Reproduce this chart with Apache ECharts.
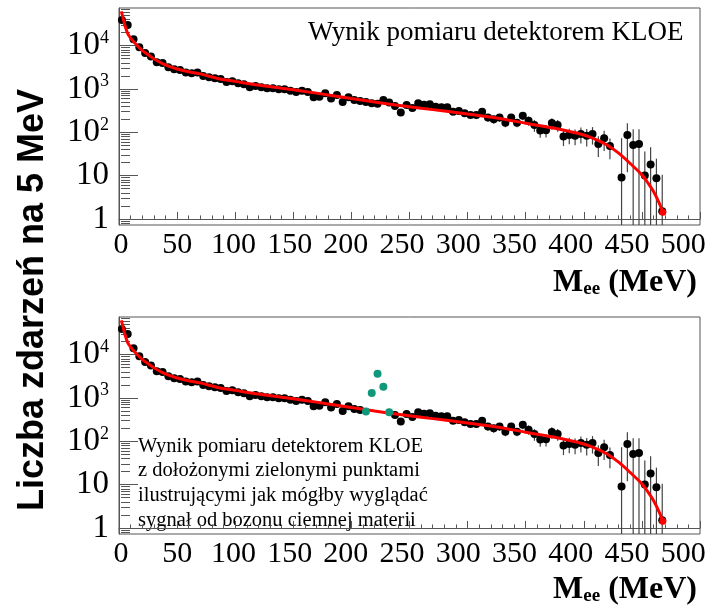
<!DOCTYPE html>
<html>
<head>
<meta charset="utf-8">
<script src="https://cdn.jsdelivr.net/npm/echarts@6/dist/echarts.min.js"></script>
<style>
  html, body { margin: 0; padding: 0; background: #fff; }
  #chart { width: 726px; height: 607px; }
</style>
</head>
<body>
<div id="chart"></div>
<script>
  // bin width of the histogram (MeV); first bin centre 2.5
  var binWidth = 5;
  // counts per 5 MeV bin (null = empty bin)
  var counts = [
    39400, 30200, 14100, 9200, 6800, 5600, 4160, 3960, 3180, 2860,
    2760, 2400, 2320, 2400, 2000, 1870, 1780, 1700, 1450, 1510,
    1350, 1290, 1100, 1180, 1100, 1040, 1040, 990, 990, 915,
    850, 915, 850, 645, 660, 800, 600, 730, 500, 645,
    560, 525, 500, 470, 455, 560, 490, 405, 285, 425,
    364, 470, 430, 445, 390, 380, 380, 300, 310, 275,
    252, 252, 300, 220, 200, 220, 167, 220, 167, 240,
    186, 148, 110, 112, 163, 148, 80, 87, 83, 92,
    83, 92, 54, 73, 48, null, 9, 87, 51, 54,
    10, 18, 8.7, 1.5
  ];
  // error bar half-lengths for the same bins
  var errors = [
    0, 0, 0, 0, 0, 0, 0, 0, 0, 0,
    0, 0, 0, 0, 0, 0, 0, 0, 0, 0,
    0, 0, 0, 0, 0, 0, 0, 0, 0, 0,
    0, 0, 0, 0, 0, 0, 0, 0, 0, 0,
    0, 0, 0, 0, 0, 0, 0, 0, 0, 0,
    0, 0, 0, 0, 0, 0, 40, 36, 37, 35,
    40, 40, 45, 44, 42, 45, 36, 45, 36, 50,
    45, 45, 35, 36, 48, 45, 32, 34, 33, 37,
    36, 40, 27, 36, 24, null, 64, 75, 67, 64,
    26, 27, 16, 9
  ];
  // fit curve (red), mass in MeV and value
  var fitMass = [2, 2.5, 5, 7.5, 10, 15, 20, 25, 30, 40, 50, 60, 70, 85, 100, 120, 140, 160, 180, 200,
    220, 240, 260, 280, 300, 325, 350, 375, 400, 410, 420, 430, 440, 450, 455, 460, 465, 468];
  var fitValue = [62000, 55000, 30000, 19000, 15000, 10500, 7800, 6200, 5000, 3600, 2900, 2500, 2230, 1750, 1500, 1230, 1040, 880, 730, 600,
    500, 420, 360, 310, 265, 213, 162, 124, 87, 69, 51, 33, 19, 10.4, 6.9, 4.3, 2.3, 1.43];
  // green "signal" points shown in the lower panel
  var signalMass = [212.5, 217.5, 222.5, 227.5, 232.5];
  var signalValue = [490, 1310, 3640, 1820, 470];

  var xTicks = [0, 50, 100, 150, 200, 250, 300, 350, 400, 450, 500];
  var yDecades = [0, 1, 2, 3, 4];
  var yDecadeLabels = ['1', '10', '10{s|2}', '10{s|3}', '10{s|4}'];

  var lg = function (v) { return Math.log(v) / Math.LN10; };
  var yMin = -0.14, yMax = 4.87;

  // minor log ticks 2..9 x 10^k
  var minorTicks = [lg(0.8), lg(0.9)];
  for (var k = 0; k <= 4; k++) {
    for (var m = 2; m <= 9; m++) {
      var t = lg(m) + k;
      if (t < yMax) minorTicks.push(t);
    }
  }

  var bins = counts.map(function (c, i) { return 2.5 + i * binWidth; });

  function pointsFor(skipSignal) {
    var out = [];
    bins.forEach(function (x, i) {
      if (counts[i] == null) return;
      if (skipSignal && signalMass.indexOf(x) >= 0) return;
      out.push([x, lg(counts[i])]);
    });
    return out;
  }
  function errorBars(skipSignal) {
    var out = [];
    bins.forEach(function (x, i) {
      if (counts[i] == null || !errors[i]) return;
      if (skipSignal && signalMass.indexOf(x) >= 0) return;
      var lo = counts[i] - errors[i];
      out.push([x, lo > 0.3 ? lg(lo) : lg(0.3), lg(counts[i] + errors[i])]);
    });
    return out;
  }
  var fitData = fitMass.map(function (x, i) { return [x, lg(fitValue[i])]; });
  var signalData = signalMass.map(function (x, i) { return [x, lg(signalValue[i])]; });

  var serif = '"Liberation Serif", "Times New Roman", serif';
  var frameColor = '#555';

  function renderErr(params, api) {
    var p1 = api.coord([api.value(0), api.value(1)]);
    var p2 = api.coord([api.value(0), api.value(2)]);
    return {
      type: 'line',
      shape: { x1: p1[0], y1: p1[1], x2: p2[0], y2: p2[1] },
      style: { stroke: '#444', lineWidth: 1.2 }
    };
  }

  var grids = [
    { left: 119, top: 8, width: 581, height: 217 },
    { left: 119, top: 317, width: 581, height: 217 }
  ];

  var xAxes = [], yAxes = [], series = [];
  grids.forEach(function (g, gi) {
    g.show = true;
    g.borderColor = frameColor;
    g.borderWidth = 1;
    g.backgroundColor = 'transparent';
    // scale axis: line and ticks
    xAxes.push({
      type: 'value', gridIndex: gi, min: 0, max: 500, interval: 50,
      axisLine: { lineStyle: { color: frameColor } },
      axisTick: { inside: true, length: 7, lineStyle: { color: frameColor } },
      minorTick: { show: true, splitNumber: 5, length: 3.5, lineStyle: { color: frameColor } },
      splitLine: { show: false },
      axisLabel: { show: false }
    });
    // label row: in the original the numbers sit slightly tighter than the ticks
    xAxes.push({
      type: 'value', gridIndex: gi, position: 'bottom', offset: 0, min: -1.8, max: 515,
      axisLine: { show: false }, axisTick: { show: false }, splitLine: { show: false },
      axisLabel: { color: '#000', fontFamily: serif, fontSize: 30, margin: 5, customValues: xTicks }
    });
    yAxes.push({
      type: 'value', gridIndex: gi, min: yMin, max: yMax, position: 'left',
      axisLine: { show: true, lineStyle: { color: frameColor } },
      axisTick: { inside: true, length: 19, customValues: yDecades, lineStyle: { color: frameColor } },
      splitLine: { show: false },
      axisLabel: {
        customValues: yDecades, color: '#000', fontFamily: serif, fontSize: 33, margin: 10,
        formatter: function (v) { return yDecadeLabels[Math.round(v)]; },
        rich: { s: { fontFamily: serif, fontSize: 18, verticalAlign: 'top', padding: [0, 0, 15, 0], color: '#000' } }
      }
    });
    yAxes.push({
      type: 'value', gridIndex: gi, min: yMin, max: yMax, position: 'left', offset: 0,
      axisLine: { show: false },
      axisTick: { inside: true, length: 9, customValues: minorTicks, lineStyle: { color: frameColor } },
      axisLabel: { show: false },
      splitLine: { show: false }
    });
    var skip = gi === 1;
    var xi = gi * 2, yi = gi * 2;
    series.push({
      type: 'custom', xAxisIndex: xi, yAxisIndex: yi, renderItem: renderErr,
      data: errorBars(skip), clip: true, z: 2
    });
    series.push({
      type: 'scatter', xAxisIndex: xi, yAxisIndex: yi, data: pointsFor(skip),
      symbolSize: 8, itemStyle: { color: '#000', opacity: 1 }, z: 3, silent: true
    });
    series.push({
      type: 'line', xAxisIndex: xi, yAxisIndex: yi, data: fitData, smooth: 0.3,
      showSymbol: false, lineStyle: { color: '#ff0000', width: 3 }, z: 4, silent: true
    });
    series.push({
      type: 'scatter', xAxisIndex: xi, yAxisIndex: yi, data: [fitData[fitData.length - 1]],
      symbolSize: 7, itemStyle: { color: '#ff0000', opacity: 1 }, z: 5, silent: true
    });
    if (gi === 1) {
      series.push({
        type: 'scatter', xAxisIndex: xi, yAxisIndex: yi, data: signalData,
        symbolSize: 8, itemStyle: { color: '#12977a', opacity: 1 }, z: 6, silent: true
      });
    }
  });

  var meeRich = {
    m: { fontFamily: serif, fontWeight: 'bold', fontSize: 32, fill: '#000' },
    s: { fontFamily: serif, fontWeight: 'bold', fontSize: 19, fill: '#000', verticalAlign: 'bottom', padding: [10, 0, 0, 0] }
  };

  var chart = echarts.init(document.getElementById('chart'), null, { renderer: 'canvas' });
  chart.setOption({
    animation: false,
    backgroundColor: '#fff',
    grid: grids,
    xAxis: xAxes,
    yAxis: yAxes,
    series: series,
    graphic: [
      {
        type: 'text', x: 33, y: 300, rotation: Math.PI / 2,
        style: { text: 'Liczba zdarzeń na 5 MeV', font: 'bold 36px "Liberation Sans", Arial, sans-serif', fill: '#000', align: 'center', verticalAlign: 'middle' }
      },
      {
        type: 'text', x: 697, y: 283,
        style: { text: '{m|M}{s|ee}{m| (MeV)}', rich: meeRich, align: 'right', verticalAlign: 'middle' }
      },
      {
        type: 'text', x: 697, y: 590,
        style: { text: '{m|M}{s|ee}{m| (MeV)}', rich: meeRich, align: 'right', verticalAlign: 'middle' }
      },
      {
        type: 'text', x: 308, y: 33,
        style: { text: 'Wynik pomiaru detektorem KLOE', font: '27px ' + serif, fill: '#000', align: 'left', verticalAlign: 'middle' }
      },
      {
        type: 'text', x: 138, y: 434,
        style: {
          text: 'Wynik pomiaru detektorem KLOE\nz dołożonymi zielonymi punktami\nilustrującymi jak mógłby wyglądać\nsygnał od bozonu ciemnej materii',
          font: '20.5px ' + serif, lineHeight: 24.7, fill: '#000', align: 'left', verticalAlign: 'top'
        }
      }
    ]
  });
</script>
</body>
</html>
